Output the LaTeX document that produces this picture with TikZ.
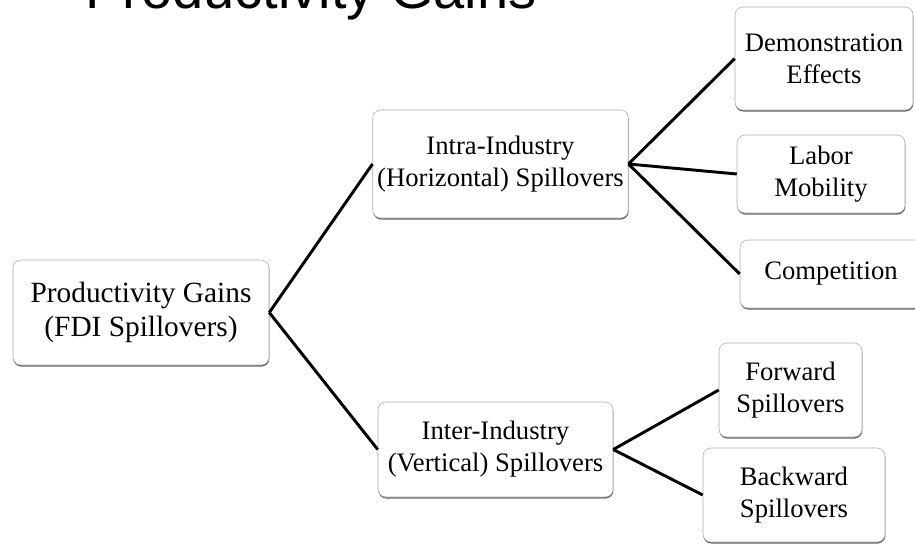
\documentclass[tikz,border=0pt]{standalone}
\usepackage{fontspec}
\setmainfont{Liberation Serif}
\newfontfamily\titlefont{Liberation Sans}
\usetikzlibrary{shadows}

\begin{document}
\begin{tikzpicture}[
        x=0.75pt, y=-0.75pt,
        boxNode/.style={
            rectangle,
            rounded corners=6pt,
            draw=gray!65,
            thin,
            fill=white,
            align=center,
            drop shadow={shadow xshift=0.3pt, shadow yshift=-1.2pt, fill=black!75, opacity=0.8},
            font=\fontsize{20}{24}\selectfont
        },
        rootNode/.style={
            boxNode,
            font=\fontsize{22}{25}\selectfont
        },
        titleText/.style={
            inner sep=0pt,
            font=\titlefont\fontsize{42}{48}\selectfont
        },
        line/.style={
            line width=2.2pt
        }
    ]
        \useasboundingbox (0,0) rectangle (915,544);
        \clip (0,0) rectangle (915,544);

        \node[titleText, anchor=base west] (title) at (85,8) {Productivity Gains};

        \node[rootNode, minimum width=192pt, minimum height=78.75pt] (root) at (141,312.5)
            {Productivity Gains\\(FDI Spillovers)};

        \node[boxNode, minimum width=191.25pt, minimum height=81pt] (intra) at (500.5,164)
            {Intra-Industry\\(Horizontal) Spillovers};
        \node[boxNode, minimum width=176.25pt, minimum height=71.25pt] (inter) at (495.5,449.5)
            {Inter-Industry\\(Vertical) Spillovers};

        \node[boxNode, minimum width=133.5pt, minimum height=77.25pt] (demo) at (824,58.5)
            {Demonstration\\Effects};
        \node[boxNode, minimum width=126pt, minimum height=58.5pt] (labor) at (821,174)
            {Labor\\Mobility};
        \node[boxNode, minimum width=136.5pt, minimum height=51pt] (comp) at (831,274)
            {Competition};

        \node[boxNode, minimum width=107.25pt, minimum height=70.5pt] (forward) at (790.5,390)
            {Forward\\Spillovers};
        \node[boxNode, minimum width=136.5pt, minimum height=70.5pt] (backward) at (794,495)
            {Backward\\Spillovers};

        \draw[line] (root.east) -- (intra.west);
        \draw[line] (root.east) -- (inter.west);

        \draw[line] (intra.east) -- (demo.west);
        \draw[line] (intra.east) -- (labor.west);
        \draw[line] (intra.east) -- (comp.west);

        \draw[line] (inter.east) -- (forward.west);
        \draw[line] (inter.east) -- (backward.west);

    \end{tikzpicture}
\end{document}
